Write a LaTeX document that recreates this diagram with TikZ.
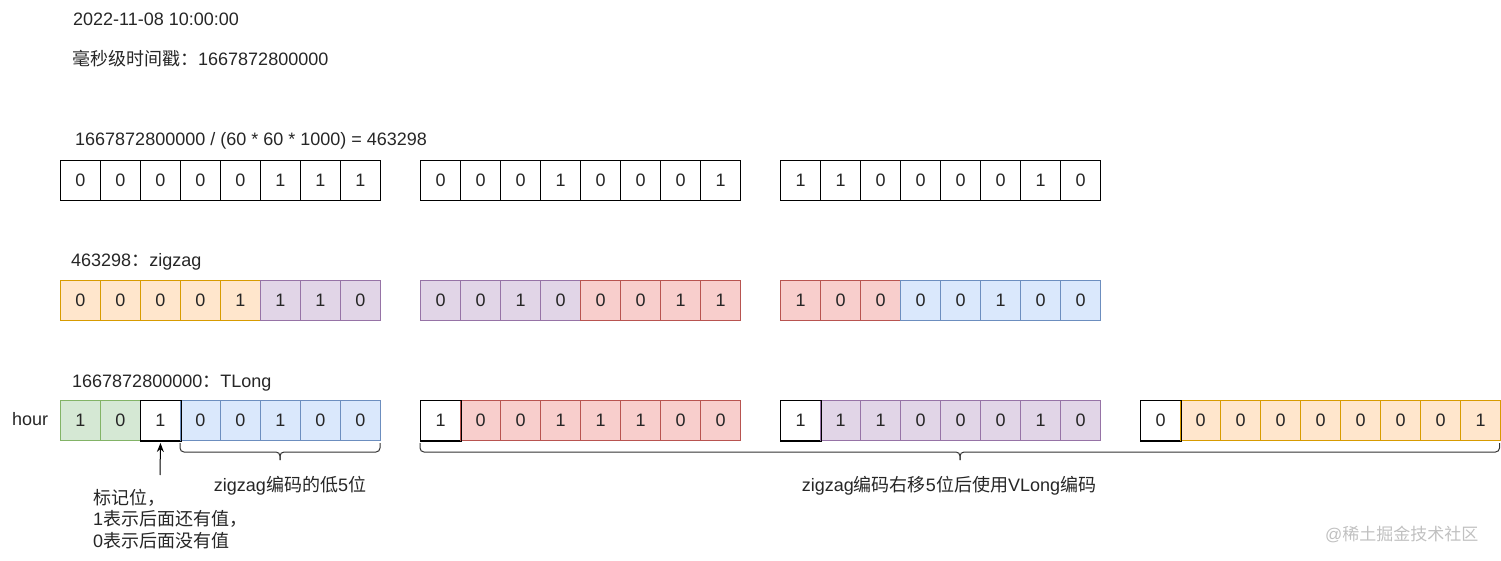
\documentclass[tikz,border=0pt]{standalone}
\usepackage{fontspec}
\setmainfont{Liberation Sans}
\newfontfamily\cjk{Noto Sans CJK SC}
\usetikzlibrary{arrows.meta}
\definecolor{wf}{HTML}{FFFFFF}\definecolor{wd}{HTML}{000000}
\definecolor{of}{HTML}{FFE6CC}\definecolor{od}{HTML}{D79B00}
\definecolor{pf}{HTML}{E1D5E7}\definecolor{pd}{HTML}{9673A6}
\definecolor{rf}{HTML}{F8CECC}\definecolor{rd}{HTML}{B85450}
\definecolor{bf}{HTML}{DAE8FC}\definecolor{bd}{HTML}{6C8EBF}
\definecolor{gf}{HTML}{D5E8D4}\definecolor{gd}{HTML}{82B366}
\definecolor{wm}{HTML}{C0C0C0}
\begin{document}
\begin{tikzpicture}[x=1pt,y=-1pt,
  font=\fontsize{18}{21.5}\selectfont,
  cell/.style={line width=1pt, minimum width=40pt, minimum height=40pt,
    inner sep=0pt, anchor=north west, text=black!85},
  lbl/.style={anchor=base west, inner sep=0pt, text=black!85},
  brace/.style={line width=1pt, rounded corners=4pt, draw=black!80},
  arr/.style={line width=1pt, -{Stealth[length=9pt,width=7pt]}}]
\useasboundingbox (0,0) rectangle (1501,561);
% texts
\node[lbl] (t1) at (73,26) {2022-11-08 10:00:00};
\node[lbl] (t2) at (72,66) {{\cjk 毫秒级时间戳：}1667872800000};
\node[lbl] (t3) at (75,146) {1667872800000 / (60 * 60 * 1000) = 463298};
\node[lbl] (t4) at (71,267) {463298{\cjk ：}zigzag};
\node[lbl] (t5) at (72,387) {1667872800000{\cjk ：}TLong};
\node[lbl] (hour) at (12,425) {hour};
% row 1
\foreach \c/\v [count=\i from 0] in {w/0,w/0,w/0,w/0,w/0,w/1,w/1,w/1}
  \node[cell,fill=\c f,draw=\c d] (ra\i) at ({60+40*\i},160) {\v};
\foreach \c/\v [count=\i from 0] in {w/0,w/0,w/0,w/1,w/0,w/0,w/0,w/1}
  \node[cell,fill=\c f,draw=\c d] (rb\i) at ({420+40*\i},160) {\v};
\foreach \c/\v [count=\i from 0] in {w/1,w/1,w/0,w/0,w/0,w/0,w/1,w/0}
  \node[cell,fill=\c f,draw=\c d] (rc\i) at ({780+40*\i},160) {\v};
% row 2
\foreach \c/\v [count=\i from 0] in {o/0,o/0,o/0,o/0,o/1,p/1,p/1,p/0}
  \node[cell,fill=\c f,draw=\c d] (sa\i) at ({60+40*\i},280) {\v};
\foreach \c/\v [count=\i from 0] in {p/0,p/0,p/1,p/0,r/0,r/0,r/1,r/1}
  \node[cell,fill=\c f,draw=\c d] (sb\i) at ({420+40*\i},280) {\v};
\foreach \c/\v [count=\i from 0] in {r/1,r/0,r/0,b/0,b/0,b/1,b/0,b/0}
  \node[cell,fill=\c f,draw=\c d] (sc\i) at ({780+40*\i},280) {\v};
% row 3
\foreach \c/\v [count=\i from 0] in {g/1,g/0,w/1,b/0,b/0,b/1,b/0,b/0}
  \node[cell,fill=\c f,draw=\c d] (ta\i) at ({60+40*\i},400) {\v};
\foreach \c/\v [count=\i from 0] in {w/1,r/0,r/0,r/1,r/1,r/1,r/0,r/0}
  \node[cell,fill=\c f,draw=\c d] (tb\i) at ({420+40*\i},400) {\v};
\foreach \c/\v [count=\i from 0] in {w/1,p/1,p/1,p/0,p/0,p/0,p/1,p/0}
  \node[cell,fill=\c f,draw=\c d] (tc\i) at ({780+40*\i},400) {\v};
\foreach \c/\v [count=\i from 0] in {w/0,o/0,o/0,o/0,o/0,o/0,o/0,o/0,o/1}
  \node[cell,fill=\c f,draw=\c d] (td\i) at ({1140+40*\i},400) {\v};
% redraw white cells' borders on top
\foreach \n in {ta2,tb0,tc0,td0}
  \draw[line width=1pt] (\n.south west) rectangle (\n.north east);
% braces
\draw[brace] (180,443) -- (180,452) -- (280,452) -- (280,460);
\draw[brace] (380,443) -- (380,452) -- (280,452) -- (280,460);
\draw[brace] (420,443) -- (420,452) -- (960,452) -- (960,460);
\draw[brace] (1499.5,443) -- (1499.5,452) -- (960,452) -- (960,460);
% arrow
\coordinate (arrstart) at (160,475);
\draw[arr] (arrstart) -- ([yshift=-2pt]ta2.south);
% notes
\node[lbl, anchor=base] (low5) at (290,491) {zigzag{\cjk 编码的低}5{\cjk 位}};
\node[lbl, anchor=base] (vlong) at (949,491) {zigzag{\cjk 编码右移}5{\cjk 位后使用}VLong{\cjk 编码}};
\node[lbl, align=left, anchor=north west, font=\fontsize{18}{21.5}\selectfont] (mark) at (93,489)
  {{\cjk 标记位，}\\1{\cjk 表示后面还有值，}\\0{\cjk 表示后面没有值}};
\node[lbl, text=wm, font=\fontsize{17}{20}\selectfont] (wmark) at (1325,540) {@{\cjk 稀土掘金技术社区}};
\end{tikzpicture}
\end{document}
